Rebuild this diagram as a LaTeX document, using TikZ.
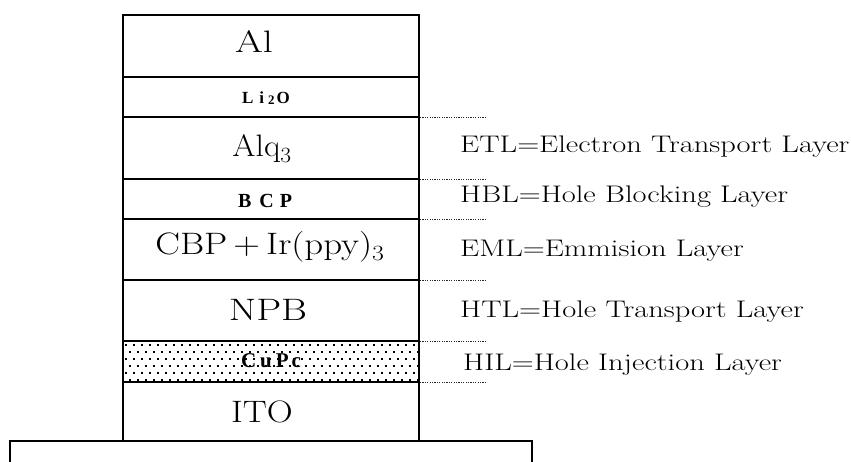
\documentclass[tikz,border=0pt]{standalone}
\usepackage{fontspec}
\newfontfamily\heavyserif{Liberation Serif}
\newcommand\widen[2]{\scalebox{#1}[1]{#2}}
\begin{document}
\begin{tikzpicture}[x=1pt,y=-1pt,
  layerline/.style={line width=2.8pt},
  thinline/.style={line width=1.8pt},
  guide/.style={line width=0.7pt, dash pattern=on 1.2pt off 1.2pt, black!85},
  big/.style={font=\fontsize{31}{31}\selectfont, inner sep=0pt, anchor=base},
  small/.style={font=\heavyserif\bfseries\fontsize{20}{20}\selectfont, inner sep=0pt, anchor=base},
  legend/.style={font=\fontsize{24}{24}\selectfont, inner sep=0pt, anchor=base west},
]
\useasboundingbox (0,0) rectangle (851,462);

% dotted fill of the CuPc layer
\begin{scope}
  \clip (123,341) rectangle (419,382);
  \foreach \r in {0,...,5} {
    \pgfmathsetmacro\yy{344+\r*7}
    \pgfmathsetmacro\off{mod(\r,2)*4}
    \foreach \c in {0,...,37} {
      \fill ({125+\off+\c*8},\yy) rectangle ++(2.3,2.3);
    }
  }
\end{scope}

% substrate
\draw[thinline] (10,462) -- (10,441) -- (532,441) -- (532,462);

% stack outline and layer boundaries
\draw[layerline] (123,441) -- (123,15) -- (419,15) -- (419,441);
\foreach \y in {77,117,179,219,280} \draw[layerline] (123,\y) -- (419,\y);
\foreach \y in {341,382} \draw[thinline] (123,\y) -- (419,\y);

% layer names
\node[big]   (al)   at (254,53)  {\widen{1.29}{Al}};
\node[small, font=\heavyserif\bfseries\fontsize{17}{17}\selectfont] (lio) at (266,104)
  {L\hspace{6pt}i\hspace{4pt}\raisebox{-1pt}{\fontsize{13}{13}\selectfont 2}\hspace{2pt}O};
\node[big]   (alq)  at (262,157) {\widen{1.08}{Alq\textsubscript{3}}};
\node[small] (bcp)  at (265,208) {B\hspace{8pt}C\hspace{6pt}P};
\node[small, font=\heavyserif\bfseries\fontsize{21}{21}\selectfont] (cupc) at (271,367)
  {C\hspace{4pt}u\hspace{4pt}P\hspace{3pt}c};
\node[big]   (cbp)  at (270,255) {\widen{1.19}{CBP\,+\,Ir(ppy)\textsubscript{3}}};
\node[big]   (npb)  at (268,320) {\widen{1.28}{NPB}};
\node[big]   (ito)  at (262,422) {\widen{1.16}{ITO}};

% guide lines between the legend entries
\foreach \y [count=\i] in {117,179,219,280,341,382} {
  \coordinate (g\i a) at (420,\y);
  \coordinate (g\i b) at (487,\y);
  \draw[guide] (g\i a) -- (g\i b);
}

% legend
\node[legend] (etl) at (460,153) {\widen{1.27}{ETL=Electron Transport Layer}};
\node[legend] (hbl) at (460,203) {\widen{1.27}{HBL=Hole Blocking Layer}};
\node[legend] (eml) at (460,257) {\widen{1.27}{EML=Emmision Layer}};
\node[legend] (htl) at (460,317) {\widen{1.27}{HTL=Hole Transport Layer}};
\node[legend] (hil) at (463,370) {\widen{1.27}{HIL=Hole Injection Layer}};
\end{tikzpicture}
\end{document}
